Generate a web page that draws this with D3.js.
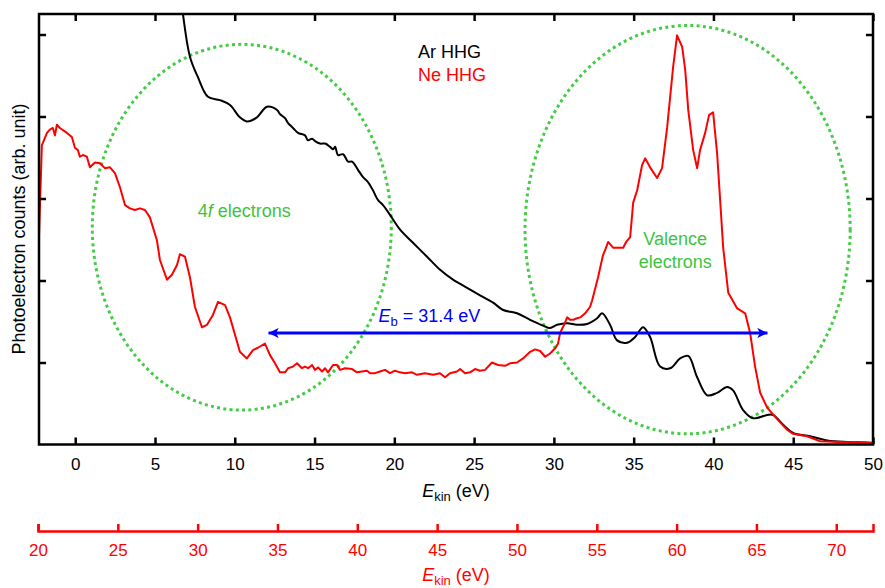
<!DOCTYPE html>
<html>
<head>
<meta charset="utf-8">
<script src="https://cdn.jsdelivr.net/npm/d3@7"></script>
<style>
  body { margin: 0; background: #fff; }
  text { font-family: "Liberation Sans", Arial, Helvetica, sans-serif; }
</style>
</head>
<body>
<div id="chart"></div>
<script>
// Ar HHG spectrum, [E_kin (eV), counts (arb.)]
var arHHG = [
  [6.56, 5.54], [6.75, 5.25], [7.19, 4.73], [7.69, 4.48], [8.32, 4.24], [9.07, 4.20],
  [9.70, 4.14], [10.32, 3.99], [10.76, 3.94], [11.39, 3.99], [12.02, 4.12], [12.65, 4.08],
  [12.83, 4.03], [13.15, 3.98], [13.34, 3.92], [13.65, 3.86], [13.96, 3.80], [14.40, 3.77],
  [14.59, 3.71], [14.84, 3.73], [15.03, 3.70], [15.34, 3.67], [15.66, 3.67], [15.97, 3.63],
  [16.16, 3.60], [16.29, 3.63], [16.47, 3.53], [16.79, 3.54], [17.10, 3.45], [17.35, 3.45],
  [17.72, 3.35], [18.04, 3.26], [18.35, 3.20], [18.66, 3.10], [18.98, 2.98], [19.29, 2.92],
  [19.73, 2.80], [20.36, 2.62], [21.17, 2.46], [22.05, 2.29], [22.87, 2.13], [23.68, 2.01],
  [24.56, 1.91], [25.37, 1.82], [26.19, 1.73], [26.82, 1.64], [27.69, 1.60], [28.51, 1.52],
  [29.32, 1.45], [29.76, 1.42], [30.20, 1.46], [30.83, 1.48], [31.45, 1.46], [32.08, 1.47],
  [32.71, 1.54], [33.02, 1.60], [33.52, 1.46], [33.96, 1.27], [34.59, 1.24], [35.09, 1.31],
  [35.59, 1.43], [36.03, 1.31], [36.66, 0.95], [37.29, 0.93], [37.91, 1.05], [38.42, 1.08],
  [38.98, 0.82], [39.61, 0.60], [40.23, 0.63], [40.86, 0.70], [41.23, 0.66], [41.86, 0.42],
  [42.49, 0.32], [43.37, 0.36], [43.74, 0.36], [44.37, 0.24], [44.99, 0.14], [46.06, 0.10],
  [47.13, 0.05], [48.38, 0.03], [49.82, 0.02], [50.0, 0.01]
];

// Ne HHG spectrum, [E_kin (eV), counts (arb.)]
var neHHG = [
  [-2.28, 2.47], [-2.09, 3.65], [-2.02, 3.68], [-1.77, 3.80], [-1.59, 3.84], [-1.40, 3.86],
  [-1.27, 3.77], [-1.15, 3.90], [-0.96, 3.86], [-0.52, 3.80], [-0.21, 3.75], [-0.02, 3.62],
  [0.17, 3.59], [0.29, 3.51], [0.48, 3.53], [0.73, 3.51], [0.92, 3.38], [1.24, 3.44],
  [1.55, 3.43], [1.86, 3.37], [2.18, 3.38], [2.49, 3.31], [2.80, 3.14], [2.99, 3.01],
  [3.12, 2.92], [3.43, 2.88], [3.74, 2.86], [4.06, 2.88], [4.37, 2.86], [4.68, 2.77],
  [5.12, 2.49], [5.31, 2.25], [5.75, 2.01], [6.06, 2.07], [6.38, 2.19], [6.56, 2.32],
  [6.88, 2.29], [7.19, 2.04], [7.50, 1.68], [7.94, 1.43], [8.26, 1.46], [8.63, 1.58],
  [8.95, 1.74], [9.39, 1.70], [9.70, 1.55], [10.32, 1.13], [10.76, 1.05], [11.14, 1.15],
  [11.45, 1.18], [11.89, 1.23], [12.21, 1.09], [12.52, 0.99], [12.83, 0.88], [13.15, 0.88],
  [13.34, 0.93], [13.65, 0.95], [13.90, 0.99], [14.21, 0.93], [14.40, 0.95], [14.59, 0.93],
  [14.84, 0.97], [15.03, 0.91], [15.22, 0.94], [15.47, 0.89], [15.66, 0.93], [15.84, 0.88],
  [16.16, 0.97], [16.41, 0.97], [16.60, 0.91], [16.91, 0.93], [17.35, 0.92], [17.66, 0.88],
  [17.98, 0.89], [18.29, 0.90], [18.48, 0.87], [18.79, 0.87], [19.10, 0.89], [19.42, 0.91],
  [19.73, 0.87], [20.04, 0.90], [20.36, 0.88], [20.67, 0.87], [21.11, 0.88], [21.42, 0.85],
  [21.92, 0.87], [22.43, 0.85], [22.86, 0.87], [23.18, 0.82], [23.49, 0.87], [23.93, 0.89],
  [24.12, 0.92], [24.43, 0.87], [24.75, 0.88], [25.06, 0.92], [25.37, 0.90], [25.69, 0.91],
  [26.12, 1.00], [26.50, 0.97], [26.94, 0.96], [27.25, 0.99], [27.69, 1.00], [28.07, 1.05],
  [28.51, 1.13], [28.82, 1.16], [29.14, 1.14], [29.45, 1.07], [29.76, 1.11], [30.07, 1.17],
  [30.26, 1.23], [30.39, 1.36], [30.64, 1.46], [30.83, 1.55], [31.02, 1.52], [31.21, 1.52],
  [31.45, 1.54], [31.65, 1.55], [31.96, 1.60], [32.27, 1.68], [32.40, 1.76], [32.77, 2.04],
  [33.08, 2.31], [33.21, 2.37], [33.40, 2.47], [33.71, 2.40], [34.03, 2.40], [34.34, 2.40],
  [34.53, 2.47], [34.78, 2.53], [34.97, 2.95], [35.22, 3.10], [35.53, 3.41], [35.72, 3.49],
  [36.03, 3.38], [36.47, 3.25], [36.78, 3.37], [37.10, 3.87], [37.47, 4.60], [37.72, 4.99],
  [38.04, 4.85], [38.23, 4.57], [38.42, 4.08], [38.73, 3.59], [38.98, 3.37], [39.16, 3.59],
  [39.48, 3.80], [39.73, 4.02], [39.98, 4.05], [40.23, 3.55], [40.42, 2.98], [40.61, 2.40],
  [40.93, 1.85], [41.49, 1.66], [41.99, 1.60], [42.30, 1.36], [42.61, 0.95], [42.93, 0.63],
  [43.37, 0.45], [43.68, 0.38], [44.18, 0.27], [44.62, 0.18], [44.99, 0.13], [45.87, 0.10],
  [46.69, 0.04], [47.94, 0.03], [49.82, 0.02], [50.0, 0.02]
];

var xTicks = [0, 5, 10, 15, 20, 25, 30, 35, 40, 45, 50];
var neTicks = [20, 25, 30, 35, 40, 45, 50, 55, 60, 65, 70];
var yTicks = [1, 2, 3, 4, 5];

// annotations (data units)
var ellipses = [
  { cx: 10.44, cy: 2.65, rx: 9.37, ry: 2.23 },
  { cx: 38.38, cy: 2.62, rx: 10.19, ry: 2.49 }
];
var arrowFrom = 12.05, arrowTo = 43.45, arrowY = 1.36;

var width = 885, height = 588;
var pLeft = 39, pRight = 873, pTop = 14, pBottom = 444.5;

var svg = d3.select("#chart").append("svg")
    .attr("width", width)
    .attr("height", height);

var x = d3.scaleLinear().domain([-2.27, 50]).range([pLeft, pRight]);
var xNe = d3.scaleLinear().domain([20, 72.3]).range([38, pRight]);
var y = d3.scaleLinear().domain([0, 5.25]).range([pBottom, pTop]);

var defs = svg.append("defs");
defs.append("clipPath").attr("id", "plot-clip")
  .append("rect")
    .attr("x", pLeft).attr("y", pTop)
    .attr("width", pRight - pLeft).attr("height", pBottom - pTop);

defs.append("marker")
    .attr("id", "arrowhead")
    .attr("viewBox", "0 0 10 10")
    .attr("refX", 10).attr("refY", 5)
    .attr("markerWidth", 4).attr("markerHeight", 3.4)
    .attr("markerUnits", "strokeWidth")
    .attr("orient", "auto-start-reverse")
  .append("path")
    .attr("d", "M0,0 L10,5 L0,10 L2.5,5 Z")
    .attr("fill", "#0000ff");

var green = "#3dc43d";

// dotted ellipses
svg.append("g").selectAll("ellipse")
  .data(ellipses)
  .enter()
  .append("ellipse")
    .attr("cx", function(d) { return x(d.cx); })
    .attr("cy", function(d) { return y(d.cy); })
    .attr("rx", function(d) { return x(d.cx + d.rx) - x(d.cx); })
    .attr("ry", function(d) { return y(0) - y(d.ry); })
    .attr("fill", "none")
    .attr("stroke", "#44cc44")
    .attr("stroke-width", 3)
    .attr("stroke-dasharray", "3,3.3");

var line = d3.line()
    .x(function(d) { return x(d[0]); })
    .y(function(d) { return y(d[1]); });

// the Ar trace looks smoothed in the original
var smoothLine = d3.line()
    .curve(d3.curveCatmullRom.alpha(0.5))
    .x(function(d) { return x(d[0]); })
    .y(function(d) { return y(d[1]); });

var curves = svg.append("g").attr("clip-path", "url(#plot-clip)");
curves.append("path")
    .datum(arHHG)
    .attr("d", smoothLine)
    .attr("fill", "none")
    .attr("stroke", "#000")
    .attr("stroke-width", 2)
    .attr("stroke-linejoin", "round");
curves.append("path")
    .datum(neHHG)
    .attr("d", line)
    .attr("fill", "none")
    .attr("stroke", "#ff0000")
    .attr("stroke-width", 2)
    .attr("stroke-linejoin", "round");

// binding energy arrow
svg.append("line")
    .attr("x1", x(arrowFrom) + 1)
    .attr("x2", x(arrowTo) - 1)
    .attr("y1", y(arrowY))
    .attr("y2", y(arrowY))
    .attr("stroke", "#0000ff")
    .attr("stroke-width", 3)
    .attr("marker-start", "url(#arrowhead)")
    .attr("marker-end", "url(#arrowhead)");

var eb = svg.append("text")
    .attr("x", x(19.0))
    .attr("y", y(arrowY) - 11)
    .attr("font-size", "18px")
    .attr("fill", "#0000ff");
eb.append("tspan").attr("font-style", "italic").text("E");
eb.append("tspan").attr("font-size", "13px").attr("dy", 4).text("b");
eb.append("tspan").attr("dy", -4).text(" = 31.4 eV");

// annotation labels
var fText = svg.append("text")
    .attr("x", x(10.6))
    .attr("y", 217)
    .attr("text-anchor", "middle")
    .attr("font-size", "18px")
    .attr("fill", green);
fText.append("tspan").text("4");
fText.append("tspan").attr("font-style", "italic").text("f");
fText.append("tspan").text(" electrons");

svg.append("text")
    .attr("x", x(37.6)).attr("y", 245)
    .attr("text-anchor", "middle")
    .attr("font-size", "18px")
    .attr("fill", green)
    .text("Valence");
svg.append("text")
    .attr("x", x(37.6)).attr("y", 268)
    .attr("text-anchor", "middle")
    .attr("font-size", "18px")
    .attr("fill", green)
    .text("electrons");

// legend
svg.append("text")
    .attr("x", 418).attr("y", 58)
    .attr("font-size", "18px")
    .attr("fill", "#000")
    .text("Ar HHG");
svg.append("text")
    .attr("x", 418).attr("y", 81)
    .attr("font-size", "18px")
    .attr("fill", "#ff0000")
    .text("Ne HHG");

// axes
function styleAxis(g, color) {
  g.select(".domain").remove();
  g.selectAll(".tick line").attr("stroke", color).attr("stroke-width", 2.5);
  g.selectAll(".tick text")
    .attr("fill", color)
    .attr("font-size", "17px")
    .attr("font-family", "Liberation Sans, Arial, sans-serif");
}

svg.append("g")
    .attr("transform", "translate(0," + pBottom + ")")
    .call(d3.axisBottom(x).tickValues(xTicks).tickSize(-7).tickPadding(13))
    .call(styleAxis, "#000");
svg.append("g")
    .attr("transform", "translate(0," + pTop + ")")
    .call(d3.axisTop(x).tickValues(xTicks).tickSize(-7).tickFormat(""))
    .call(styleAxis, "#000");
svg.append("g")
    .attr("transform", "translate(" + pLeft + ",0)")
    .call(d3.axisLeft(y).tickValues(yTicks).tickSize(-7).tickFormat(""))
    .call(styleAxis, "#000");
svg.append("g")
    .attr("transform", "translate(" + pRight + ",0)")
    .call(d3.axisRight(y).tickValues(yTicks).tickSize(-7).tickFormat(""))
    .call(styleAxis, "#000");

svg.append("rect")
    .attr("x", pLeft).attr("y", pTop)
    .attr("width", pRight - pLeft).attr("height", pBottom - pTop)
    .attr("fill", "none")
    .attr("stroke", "#000")
    .attr("stroke-width", 2.5);

// Ne HHG energy axis
var neAxis = svg.append("g")
    .attr("transform", "translate(0,531)")
    .call(d3.axisBottom(xNe).tickValues(neTicks).tickSize(-7).tickSizeOuter(-7).tickPadding(13));
neAxis.select(".domain").attr("stroke", "#ff0000").attr("stroke-width", 2.5).attr("fill", "none");
neAxis.selectAll(".tick line").attr("stroke", "#ff0000").attr("stroke-width", 2.5);
neAxis.selectAll(".tick text")
    .attr("fill", "#ff0000")
    .attr("font-size", "17px")
    .attr("font-family", "Liberation Sans, Arial, sans-serif");

// axis titles
function ekinLabel(yPos, color) {
  var t = svg.append("text")
      .attr("x", 456).attr("y", yPos)
      .attr("text-anchor", "middle")
      .attr("font-size", "18px")
      .attr("fill", color);
  t.append("tspan").attr("font-style", "italic").text("E");
  t.append("tspan").attr("font-size", "13px").attr("dy", 4).text("kin");
  t.append("tspan").attr("dy", -4).text(" (eV)");
}
ekinLabel(497, "#000");
ekinLabel(581, "#ff0000");

svg.append("text")
    .attr("transform", "translate(25,229) rotate(-90)")
    .attr("text-anchor", "middle")
    .attr("font-size", "18px")
    .attr("fill", "#000")
    .text("Photoelectron counts (arb. unit)");
</script>
</body>
</html>
